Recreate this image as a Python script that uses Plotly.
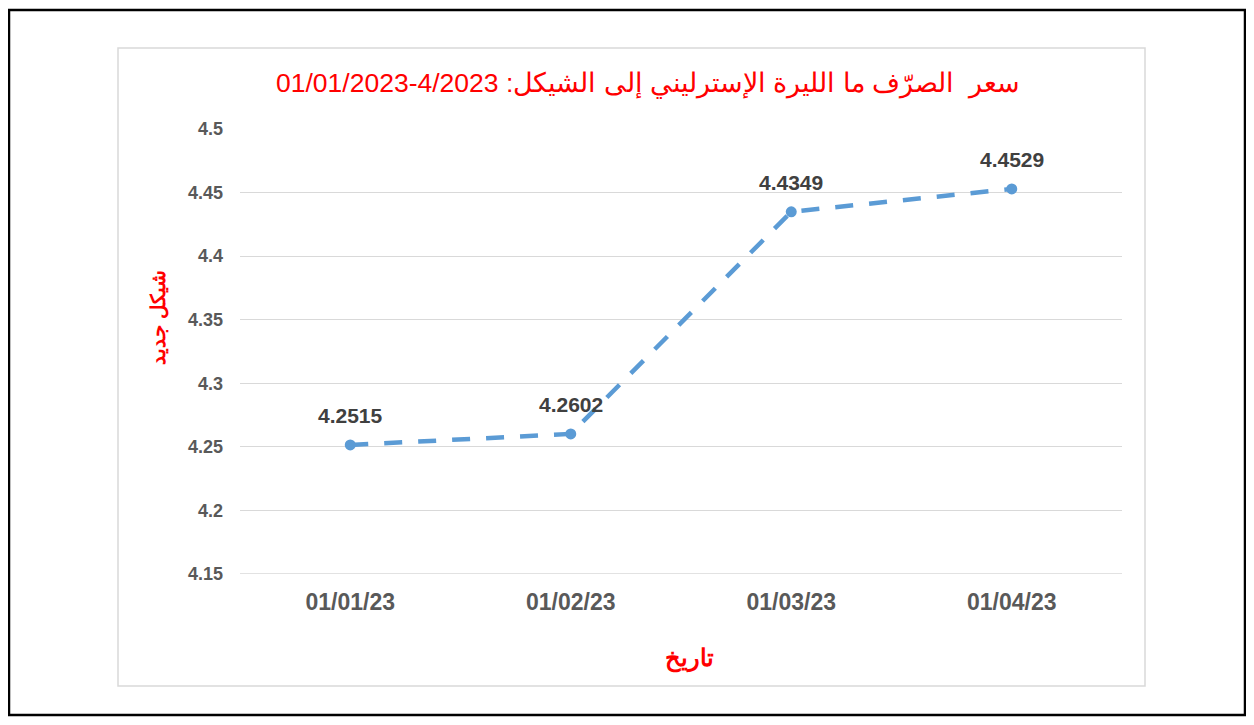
import plotly.graph_objects as go

dates = ["01/01/23", "01/02/23", "01/03/23", "01/04/23"]
rates = [4.2515, 4.2602, 4.4349, 4.4529]
y_ticks = [4.15, 4.2, 4.25, 4.3, 4.35, 4.4, 4.45, 4.5]
title_text = "سعر  الصرّف ما الليرة الإسترليني إلى الشيكل: 4/2023-01/01/2023"
x_title = "تاريخ"
y_title = "شيكل جديد"

# The page body has an 8px margin, so work in figure pixels = screen pixels - 8
OFF = 8
W, H = 1254 - OFF, 725 - 2 * OFF
L, R, T, B = 240 - OFF, 1122 - OFF, 129 - OFF, 574 - OFF
pw, ph = R - L, B - T

def px(x):
    return (x - OFF - L) / pw

def py(y):
    return (B - (y - OFF)) / ph

fig = go.Figure()
fig.add_trace(go.Scatter(
    x=dates, y=rates, mode="lines+markers",
    line=dict(color="#5B9BD5", width=4.5, dash="18px,16px"),
    marker=dict(color="#5B9BD5", size=11),
    cliponaxis=False, hoverinfo="skip",
))

label_annotations = [
    dict(x=d, y=v, xref="x", yref="y", text=f"{v:.4f}", showarrow=False,
         yshift=29, xanchor="center", yanchor="middle",
         font=dict(family="Liberation Sans", size=21, color="#404040", weight="bold"))
    for d, v in zip(dates, rates)
]

fig.update_layout(
    width=W, height=H,
    margin=dict(l=L, r=W - R, t=T, b=H - B),
    paper_bgcolor="white", plot_bgcolor="white",
    showlegend=False,
    font=dict(family="Liberation Sans"),
    xaxis=dict(range=[-0.5, 3.5], showgrid=False, showline=False, zeroline=False,
               ticks="", tickfont=dict(size=23, color="#595959", weight="bold"),
               ticklabelstandoff=12),
    yaxis=dict(range=[4.15, 4.5], tickvals=y_ticks, ticktext=[f"{v:g}" for v in y_ticks],
               showgrid=True, gridcolor="#D9D9D9", gridwidth=1.3, zeroline=False,
               showline=False, ticks="",
               tickfont=dict(size=18, color="#595959", weight="bold"),
               ticklabelstandoff=16),
    shapes=[
        dict(type="rect", xref="paper", yref="paper",
             x0=px(9), x1=px(1245), y0=py(10), y1=py(715),
             line=dict(color="black", width=2.5), layer="below"),
        dict(type="rect", xref="paper", yref="paper",
             x0=px(118), x1=px(1145), y0=py(48), y1=py(686),
             line=dict(color="#D9D9D9", width=1.5), layer="below"),
    ],
    annotations=label_annotations + [
        dict(text=title_text, xref="paper", yref="paper", x=px(648), y=py(83),
             showarrow=False, font=dict(family="Liberation Sans", size=26.5, color="#FF0000"),
             xanchor="center", yanchor="middle"),
        dict(text=x_title, xref="paper", yref="paper", x=px(689), y=py(658),
             showarrow=False, font=dict(family="Liberation Sans", size=24, color="#FF0000", weight="bold"),
             xanchor="center", yanchor="middle"),
        dict(text=y_title, xref="paper", yref="paper", x=px(158), y=py(318),
             showarrow=False, textangle=-90,
             font=dict(family="Liberation Sans", size=20, color="#FF0000", weight="bold"),
             xanchor="center", yanchor="middle"),
    ],
)
fig.add_shape(type="line", xref="paper", yref="y", x0=0, x1=1, y0=4.15, y1=4.15,
              line=dict(color="#D9D9D9", width=1.3), layer="below")

fig.write_html("out.html")
